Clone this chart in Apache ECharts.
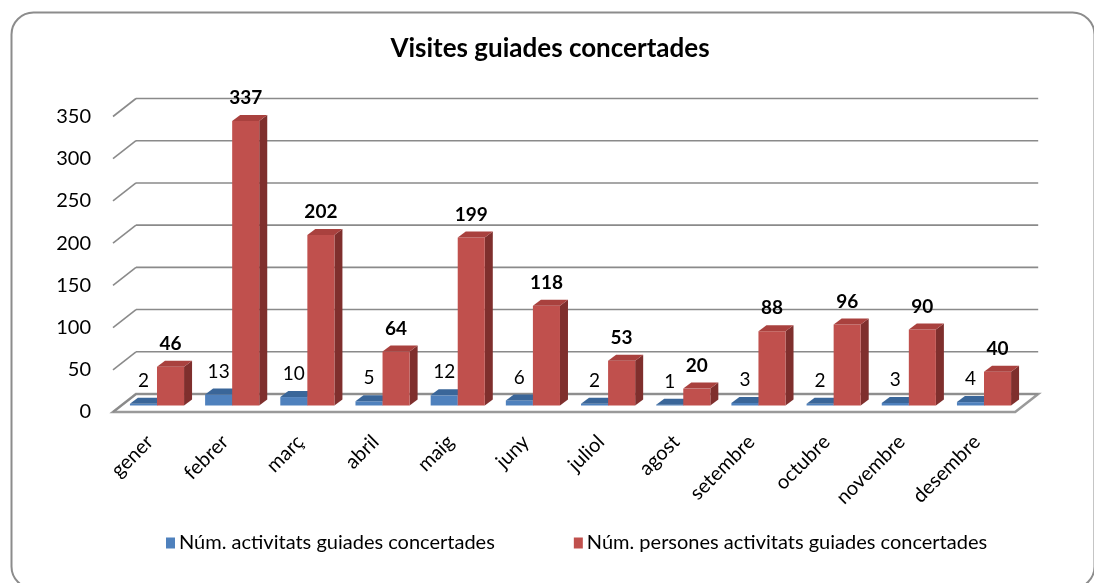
<!DOCTYPE html>
<html lang="ca">
<head>
	<meta charset="UTF-8">
	<title>Visites guiades concertades</title>
	<style>
		*{margin: 0; padding: 0; box-sizing: border-box;}
		body{background-color: #fff;}
		#view{width: 1094px; height: 583px;}
	</style>
</head>
<body>
	<div id="view"></div>
	<script src="https://cdn.jsdelivr.net/npm/echarts@6/dist/echarts.min.js"></script>
	<script>
	// dades
	const mesos = ['gener','febrer','març','abril','maig','juny','juliol','agost','setembre','octubre','novembre','desembre'];
	const activitats = [2, 13, 10, 5, 12, 6, 2, 1, 3, 2, 3, 4];
	const persones = [46, 337, 202, 64, 199, 118, 53, 20, 88, 96, 90, 40];
	const yTicks = [0, 50, 100, 150, 200, 250, 300, 350];

	const font = 'Lato, "Open Sans", sans-serif';
	// profunditat de la paret / terra (3D)
	const frontDx = -6.4, frontDy = 6.5, backDx = 16.6, backDy = -11.5;
	const lineCol = '#8a8a8a';

	function frameItem(params, api) {
		const cs = params.coordSys;
		const v = api.value(1);
		const y = api.coord([0, v])[1];
		const L = cs.x, R = cs.x + cs.width;
		const kids = [];
		if (v === 0) {
			kids.push({
				type: 'polygon',
				shape: {points: [[L + frontDx, y + frontDy], [R + frontDx, y + frontDy], [R + backDx, y + backDy], [L + backDx, y + backDy]]},
				style: {fill: '#fff', stroke: '#9a9a9a', lineWidth: 2.5}
			});
		}
		kids.push({type: 'line', shape: {x1: L + frontDx, y1: y + frontDy, x2: L + backDx, y2: y + backDy}, style: {stroke: lineCol, lineWidth: 1.6}});
		kids.push({type: 'line', shape: {x1: L + backDx, y1: y + backDy, x2: R + backDx, y2: y + backDy}, style: {stroke: lineCol, lineWidth: 1.6}});
		// etiqueta de l'eix vertical, a la cara davantera
		kids.push({type: 'text', style: {
			text: String(v), x: L + frontDx - 22, y: y + frontDy,
			align: 'right', verticalAlign: 'middle', font: '20px ' + font, fill: '#000'
		}});
		return {type: 'group', children: kids};
	}

	function bar3d(left, cols, bold) {
		return function (params, api) {
			const idx = api.value(0), v = api.value(1);
			const c = api.coord([idx, v]);
			const b = api.coord([idx, 0]);
			const bw = api.size([1, 0])[0] * 0.36;
			const x0 = left ? c[0] - bw : c[0];
			const x1 = x0 + bw;
			const dx = 8, dy = -6;
			const yt = c[1], yb = b[1];
			return {type: 'group', children: [
				{type: 'polygon', shape: {points: [[x1, yt], [x1 + dx, yt + dy], [x1 + dx, yb + dy], [x1, yb]]}, style: {fill: cols[2]}},
				{type: 'rect', shape: {x: x0, y: yt, width: bw, height: yb - yt}, style: {fill: cols[0]}},
				{type: 'polygon', shape: {points: [[x0, yt], [x1, yt], [x1 + dx, yt + dy], [x0 + dx, yt + dy]]}, style: {fill: cols[1]}},
				{type: 'text', style: {
					text: String(v), x: x0 + bw / 2, y: yt - 23,
					align: 'center', verticalAlign: 'middle',
					font: (bold ? 'bold ' : '') + '19px ' + font, fill: '#000'
				}}
			]};
		};
	}

	const chart = echarts.init(document.getElementById('view'));
	chart.setOption({
		animation: false,
		backgroundColor: '#fff',
		title: {
			text: 'Visites guiades concertades',
			left: 545, top: 31, textAlign: 'center',
			textStyle: {fontFamily: font, fontSize: 26, fontWeight: 'bold', color: '#000'}
		},
		graphic: [{
			type: 'rect', left: 9, top: 10, z: -10,
			shape: {width: 1083, height: 576, r: 22},
			style: {fill: 'none', stroke: '#8c8c8c', lineWidth: 2}
		}],
		legend: {
			bottom: 25, left: 161,
			itemGap: 79, itemWidth: 9, itemHeight: 11, icon: 'rect',
			textStyle: {fontFamily: font, fontSize: 20, color: '#000', padding: [0, 0, 0, -1]},
			data: ['Núm. activitats guiades concertades', 'Núm. persones activitats guiades concertades']
		},
		grid: {left: 119.4, right: 72.4, top: 110, bottom: 177.5},
		xAxis: {
			type: 'category', data: mesos,
			axisLine: {show: false}, axisTick: {show: false},
			axisLabel: {rotate: 45, margin: 26, padding: [0, 10, 0, 0], fontFamily: font, fontSize: 20, color: '#000', interval: 0}
		},
		yAxis: {
			type: 'value', min: 0, max: 350, interval: 50,
			axisLine: {show: false}, axisTick: {show: false}, splitLine: {show: false},
			axisLabel: {show: false}
		},
		series: [
			{
				type: 'custom', name: 'frame', z: 1, silent: true,
				renderItem: frameItem,
				data: yTicks.map(v => [0, v])
			},
			{
				type: 'custom', name: 'Núm. activitats guiades concertades', z: 3,
				itemStyle: {color: '#4F81BD'},
				renderItem: bar3d(true, ['#4F81BD', '#3a6699', '#2f5582'], false),
				data: activitats.map((v, i) => [i, v])
			},
			{
				type: 'custom', name: 'Núm. persones activitats guiades concertades', z: 4,
				itemStyle: {color: '#C0504D'},
				renderItem: bar3d(false, ['#C0504D', '#a9413e', '#7f2f2d'], true),
				data: persones.map((v, i) => [i, v])
			}
		]
	});
	</script>
</body>
</html>
